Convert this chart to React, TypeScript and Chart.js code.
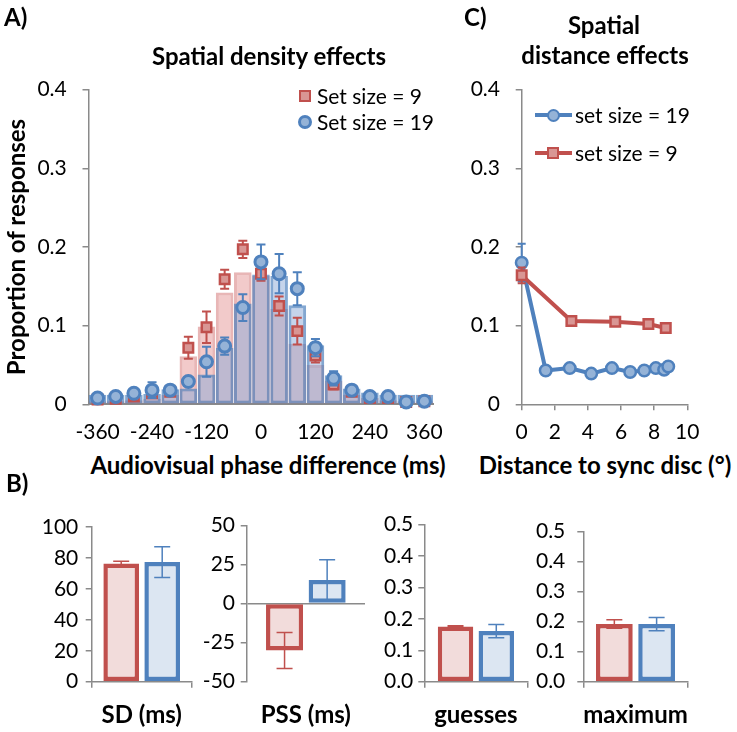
import React, { useEffect, useRef } from 'react';
import { Chart, registerables } from 'chart.js';

Chart.register(...registerables);

// ---------------- Panel A: spatial density effects ----------------
const phaseBins = [-360, -320, -280, -240, -200, -160, -120, -80, -40, 0, 40, 80, 120, 160, 200, 240, 280, 320, 360];
const phaseTickLabels = ['-360', '-240', '-120', '0', '120', '240', '360'];
const density9 = [0.006, 0.007, 0.010, 0.014, 0.016, 0.072, 0.098, 0.159, 0.197, 0.166, 0.125, 0.093, 0.062, 0.025, 0.016, 0.008, 0.008, 0.003, 0.004];
const density9Err = [0, 0, 0, 0, 0, 0.014, 0.020, 0.012, 0.011, 0.009, 0.012, 0.017, 0.009, 0.006, 0, 0, 0, 0, 0];
const density19 = [0.008, 0.010, 0.014, 0.018, 0.018, 0.029, 0.054, 0.074, 0.123, 0.181, 0.166, 0.147, 0.072, 0.033, 0.018, 0.010, 0.010, 0.003, 0.004];
const density19Err = [0.003, 0.003, 0.003, 0.010, 0.004, 0.004, 0.019, 0.011, 0.017, 0.022, 0.025, 0.021, 0.011, 0.009, 0.003, 0.003, 0.003, 0.002, 0.002];
const model9 = [0.004, 0.004, 0.005, 0.007, 0.012, 0.061, 0.099, 0.142, 0.168, 0.163, 0.121, 0.077, 0.050, 0.030, 0.012, 0.008, 0.005, 0.004, 0.004];
const model19 = [0.012, 0.012, 0.012, 0.013, 0.019, 0.020, 0.038, 0.072, 0.128, 0.165, 0.163, 0.126, 0.075, 0.037, 0.020, 0.015, 0.012, 0.012, 0.012];

// ---------------- Panel C: spatial distance effects ----------------
const distance19X = [0, 1.45, 2.9, 4.2, 5.45, 6.55, 7.4, 8.1, 8.6, 8.85];
const distance19 = [0.180, 0.043, 0.046, 0.039, 0.046, 0.041, 0.043, 0.046, 0.044, 0.048];
const distance19Err = [0.024, 0, 0, 0, 0, 0, 0, 0, 0, 0];
const distance9X = [0, 3.0, 5.65, 7.65, 8.7];
const distance9 = [0.164, 0.106, 0.105, 0.102, 0.097];
const distance9Err = [0.010, 0, 0, 0, 0];

// ---------------- Panel B: fitted parameters ----------------
const paramLabels = ['SD (ms)', 'PSS (ms)', 'guesses', 'maximum'];
const param9 = [76.4, -30, 0.176, 0.192];
const param9Err = [1.5, 11.5, 0.002, 0.014];
const param19 = [77.3, 15, 0.161, 0.192];
const param19Err = [10, 13, 0.021, 0.022];
const paramMin = [0, -50, 0, 0];
const paramMax = [100, 50, 0.5, 0.5];
const paramStep = [20, 25, 0.1, 0.1];
const paramDecimals = [0, 0, 1, 1];

// ---------------- styling ----------------
const FONT = "Lato, 'Open Sans', sans-serif";
const GREY = '#8a8a8a';
const RED = '#C0504D';
const BLUE = '#4F81BD';
const RED_MARK = '#D99694';
const BLUE_MARK = '#95B3D7';
const TICK_SIZE = 21;
const BOLD_SIZE = 24;
const LEGEND_SIZE = 21;

type Area = { l: number; t: number; r: number; b: number };
type Place = { left: number; top: number; width: number; height: number; yw: number; pt: number; pr: number; xh: number };

function place(a: Area, pad: Area): Place {
  const left = Math.floor(a.l - pad.l);
  const top = Math.floor(a.t - pad.t);
  const right = Math.ceil(a.r + pad.r);
  const bottom = Math.ceil(a.b + pad.b);
  return { left, top, width: right - left, height: bottom - top, yw: a.l - left, pt: a.t - top, pr: right - a.r, xh: bottom - a.b };
}

function drawErrors(chart: any, index: number, when: string) {
  const ds = chart.data.datasets[index];
  if (!ds.errors || (ds.errorWhen || 'before') !== when) return;
  const meta = chart.getDatasetMeta(index);
  const yScale = chart.scales[meta.yAxisID];
  const ctx = chart.ctx;
  ctx.save();
  ctx.strokeStyle = ds.errorColor;
  ctx.lineWidth = ds.errorWidth || 1.5;
  const cap = ds.errorCap || 4;
  meta.data.forEach((el: any, i: number) => {
    const err = ds.errors[i];
    if (!err) return;
    const raw = ds.data[i];
    const v = typeof raw === 'number' ? raw : raw.y;
    const x = el.x;
    const y1 = yScale.getPixelForValue(v + err);
    const y2 = yScale.getPixelForValue(v - err);
    ctx.beginPath();
    ctx.moveTo(x, y1);
    ctx.lineTo(x, y2);
    ctx.moveTo(x - cap, y1);
    ctx.lineTo(x + cap, y1);
    ctx.moveTo(x - cap, y2);
    ctx.lineTo(x + cap, y2);
    ctx.stroke();
  });
  ctx.restore();
}

const errorBarPlugin = {
  id: 'errorBars',
  beforeDatasetDraw(chart: any, args: any) {
    drawErrors(chart, args.index, 'before');
  },
  afterDatasetDraw(chart: any, args: any) {
    drawErrors(chart, args.index, 'after');
  },
};

const tickFont = { family: FONT, size: TICK_SIZE };

function yAxis(p: Place, min: number, max: number, step: number, padding: number, fmt: (v: number) => string, extra: any = {}) {
  return {
    min,
    max,
    ticks: { stepSize: step, padding, font: tickFont, color: '#000', callback: (v: any) => fmt(Number(v)) },
    grid: { display: true, drawOnChartArea: false, drawTicks: true, tickLength: 6, color: GREY, lineWidth: 1.5, ...(extra.grid || {}) },
    border: { display: true, color: GREY, width: 1.5 },
    afterFit: (s: any) => {
      s.width = p.yw;
    },
  };
}

const A_AREA: Area = { l: 88.5, t: 89.6, r: 448, b: 404.3 };
const A_PLACE = place(A_AREA, { l: 88.5, t: 89.6, r: 10, b: 44 });
const C_AREA: Area = { l: 521.7, t: 89.6, r: 687.3, b: 404.3 };
const C_PLACE = place(C_AREA, { l: 62, t: 89.6, r: 25, b: 44 });

const B_AREAS: Area[] = [
  { l: 91.7, t: 523.3, r: 191.7, b: 681.7 },
  { l: 246.7, t: 523.3, r: 365, b: 681.7 },
  { l: 424.3, t: 523.3, r: 527.5, b: 681.7 },
  { l: 583.3, t: 523.3, r: 697.4, b: 681.7 },
];
const B_CATPCT = [0.82, 0.72, 0.79, 0.81];
const B_YPAD = [7.4, 5.7, 5, 12];
const B_PLACES = B_AREAS.map((a) => place(a, { l: 62, t: 16, r: 6, b: 50 }));

function fmtProp(v: number) {
  return Math.abs(v) < 1e-9 ? '0' : v.toFixed(1);
}

function makeA(p: Place): any {
  return {
    type: 'bar',
    data: {
      labels: phaseBins.map(String),
      datasets: [
        {
          type: 'line', label: 'Set size = 19', data: density19, errors: density19Err, errorColor: BLUE, errorWidth: 2, errorCap: 4.5,
          showLine: false, pointStyle: 'circle', pointRadius: 6, pointBorderWidth: 3, pointBackgroundColor: BLUE_MARK, pointBorderColor: BLUE,
          order: 0, clip: false,
        },
        {
          type: 'line', label: 'Set size = 9', data: density9, errors: density9Err, errorColor: RED, errorWidth: 2, errorCap: 4.5,
          showLine: false, pointStyle: 'rect', pointRadius: 6.7, pointBorderWidth: 2.5, pointBackgroundColor: RED_MARK, pointBorderColor: RED,
          order: 1, clip: false,
        },
        {
          type: 'bar', label: 'Model set size = 19', data: model19, backgroundColor: 'rgba(140,170,215,0.5)', borderColor: 'rgba(79,129,189,0.7)',
          borderWidth: 3, borderSkipped: false, grouped: false, barPercentage: 1, categoryPercentage: 0.97, order: 2,
        },
        {
          type: 'bar', label: 'Model set size = 9', data: model9, backgroundColor: 'rgba(230,150,150,0.5)', borderColor: 'rgba(210,110,110,0.5)',
          borderWidth: 3, borderSkipped: false, grouped: false, barPercentage: 1, categoryPercentage: 0.97, order: 3,
        },
      ],
    },
    options: {
      animation: false, responsive: false, events: [],
      layout: { padding: { left: 0, top: p.pt, right: p.pr, bottom: 0 } },
      plugins: { legend: { display: false }, tooltip: { enabled: false }, title: { display: false } },
      scales: {
        x: {
          type: 'category', offset: true,
          grid: { display: false, drawTicks: false },
          border: { display: true, color: GREY, width: 2 },
          ticks: {
            autoSkip: false, maxRotation: 0, minRotation: 0, padding: 15.1, font: tickFont, color: '#000',
            callback: (_v: any, i: number) => (phaseTickLabels.includes(String(phaseBins[i])) ? String(phaseBins[i]) : ''),
          },
          afterFit: (s: any) => { s.height = p.xh; },
        },
        y: yAxis(p, 0, 0.4, 0.1, 15.8, fmtProp),
      },
    },
    plugins: [errorBarPlugin],
  };
}

function makeC(p: Place): any {
  return {
    type: 'scatter',
    data: {
      datasets: [
        {
          label: 'set size = 19', data: distance19X.map((x, i) => ({ x, y: distance19[i] })), showLine: true,
          borderColor: BLUE, borderWidth: 4, pointStyle: 'circle', pointRadius: 5.75, pointBorderWidth: 2.5,
          pointBackgroundColor: BLUE_MARK, pointBorderColor: BLUE, errors: distance19Err, errorColor: BLUE, errorWidth: 2, errorCap: 4,
          order: 1, clip: false,
        },
        {
          label: 'set size = 9', data: distance9X.map((x, i) => ({ x, y: distance9[i] })), showLine: true,
          borderColor: RED, borderWidth: 4, pointStyle: 'rect', pointRadius: 6.7, pointBorderWidth: 2.5,
          pointBackgroundColor: RED_MARK, pointBorderColor: RED, errors: distance9Err, errorColor: RED, errorWidth: 2, errorCap: 4,
          order: 0, clip: false,
        },
      ],
    },
    options: {
      animation: false, responsive: false, events: [],
      layout: { padding: { left: 0, top: p.pt, right: p.pr, bottom: 0 } },
      plugins: { legend: { display: false }, tooltip: { enabled: false }, title: { display: false } },
      scales: {
        x: {
          type: 'linear', min: 0, max: 10,
          ticks: { stepSize: 2, padding: 9.1, font: tickFont, color: '#000', maxRotation: 0 },
          grid: { display: true, drawOnChartArea: false, drawTicks: true, tickLength: 6, color: GREY, lineWidth: 1.5 },
          border: { display: true, color: GREY, width: 1.5 },
          afterFit: (s: any) => { s.height = p.xh; },
        },
        y: yAxis(p, 0, 0.4, 0.1, 15.7, fmtProp),
      },
    },
    plugins: [errorBarPlugin],
  };
}

function makeB(k: number) {
  return (p: Place): any => {
    const isPSS = paramMin[k] < 0;
    const dec = paramDecimals[k];
    const grid: any = isPSS
      ? {
          display: true, drawOnChartArea: true, drawTicks: true, tickLength: 6, lineWidth: 1.5, tickColor: GREY,
          color: (c: any) => (c.tick && Math.abs(c.tick.value) < 1e-9 ? GREY : 'rgba(0,0,0,0)'),
        }
      : {};
    return {
      type: 'bar',
      data: {
        labels: [paramLabels[k]],
        datasets: [
          {
            label: 'Set size = 9', data: [param9[k]], backgroundColor: '#F2DCDB', borderColor: RED, borderWidth: 4.5, borderSkipped: false,
            errors: [param9Err[k]], errorColor: RED, errorWhen: 'after', errorWidth: 1.5, errorCap: 8,
          },
          {
            label: 'Set size = 19', data: [param19[k]], backgroundColor: '#DCE6F2', borderColor: BLUE, borderWidth: 4.5, borderSkipped: false,
            errors: [param19Err[k]], errorColor: BLUE, errorWhen: 'after', errorWidth: 1.5, errorCap: 8,
          },
        ],
      },
      options: {
        animation: false, responsive: false, events: [],
        layout: { padding: { left: 0, top: p.pt, right: p.pr, bottom: 0 } },
        plugins: { legend: { display: false }, tooltip: { enabled: false }, title: { display: false } },
        datasets: { bar: { categoryPercentage: B_CATPCT[k], barPercentage: 0.87 } },
        scales: {
          x: {
            type: 'category', offset: true,
            grid: {
              display: true, offset: true, drawOnChartArea: false, drawTicks: true, tickLength: 6, lineWidth: 1.5,
              color: isPSS ? 'rgba(0,0,0,0)' : GREY,
            },
            border: { display: !isPSS, color: GREY, width: 1.5 },
            ticks: { padding: 12.9, font: { family: FONT, size: BOLD_SIZE, weight: 'bold' }, color: '#000', maxRotation: 0 },
            afterFit: (s: any) => { s.height = p.xh; },
          },
          y: yAxis(p, paramMin[k], paramMax[k], paramStep[k], B_YPAD[k], (v) => (dec ? v.toFixed(dec) : String(Math.round(v))), { grid }),
        },
      },
      plugins: [errorBarPlugin],
    };
  };
}

function ChartBox({ p, make }: { p: Place; make: (p: Place) => any }) {
  const ref = useRef<HTMLCanvasElement>(null);
  useEffect(() => {
    const chart = new Chart(ref.current as HTMLCanvasElement, make(p));
    return () => chart.destroy();
  }, []);
  return (
    <canvas
      ref={ref}
      width={p.width}
      height={p.height}
      style={{ position: 'absolute', left: p.left, top: p.top, width: p.width, height: p.height }}
    />
  );
}

function Txt({ x, y, children, bold, size, align = 'center', rotate }: any) {
  const tx = align === 'center' ? '-50%' : '0';
  return (
    <div
      style={{
        position: 'absolute', left: x, top: y, whiteSpace: 'nowrap', fontFamily: FONT,
        fontWeight: bold ? 700 : 400, fontSize: size || 18, lineHeight: 1.2, color: '#000',
        transform: `translate(${tx}, -50%)${rotate ? ` rotate(${rotate}deg)` : ''}`,
        transformOrigin: align === 'center' ? 'center' : 'left center',
      }}
    >
      {children}
    </div>
  );
}

function Box(style: any) {
  return <div style={{ position: 'absolute', boxSizing: 'border-box', ...style }} />;
}

export default function App() {
  return (
    <div style={{ position: 'absolute', left: 0, top: 0, width: 737, height: 732, background: '#fff', overflow: 'hidden', fontFamily: FONT }}>
      <ChartBox p={A_PLACE} make={makeA} />
      <ChartBox p={C_PLACE} make={makeC} />
      {B_PLACES.map((p, k) => (
        <ChartBox key={k} p={p} make={makeB(k)} />
      ))}

      <Txt x={4} y={17} bold size={BOLD_SIZE} align="left">A)</Txt>
      <Txt x={269} y={56} bold size={BOLD_SIZE}>Spatial density effects</Txt>
      <Txt x={16} y={247} bold size={BOLD_SIZE} rotate={-90}>Proportion of responses</Txt>
      <Txt x={268} y={465} bold size={BOLD_SIZE}>Audiovisual phase difference (ms)</Txt>

      {Box({ left: 299, top: 90, width: 12, height: 12, border: `2.5px solid ${RED}`, background: RED_MARK })}
      <Txt x={317} y={96} size={LEGEND_SIZE} align="left">Set size = 9</Txt>
      {Box({ left: 298, top: 114.7, width: 14, height: 14, borderRadius: '50%', border: `3px solid ${BLUE}`, background: BLUE_MARK })}
      <Txt x={317} y={121.7} size={LEGEND_SIZE} align="left">Set size = 19</Txt>

      <Txt x={464} y={17} bold size={BOLD_SIZE} align="left">C)</Txt>
      <Txt x={604} y={25} bold size={BOLD_SIZE}>Spatial</Txt>
      <Txt x={605} y={55} bold size={BOLD_SIZE}>distance effects</Txt>
      <Txt x={605} y={465} bold size={BOLD_SIZE}>Distance to sync disc (°)</Txt>

      {Box({ left: 535, top: 113, width: 37, height: 4, background: BLUE })}
      {Box({ left: 546.5, top: 108.5, width: 13, height: 13, borderRadius: '50%', border: `2.5px solid ${BLUE}`, background: BLUE_MARK })}
      <Txt x={575} y={115} size={LEGEND_SIZE} align="left">set size = 19</Txt>
      {Box({ left: 535, top: 150.7, width: 37, height: 4, background: RED })}
      {Box({ left: 547, top: 146.7, width: 12, height: 12, border: `2.5px solid ${RED}`, background: RED_MARK })}
      <Txt x={575} y={152.7} size={LEGEND_SIZE} align="left">set size = 9</Txt>

      <Txt x={6} y={483} bold size={BOLD_SIZE} align="left">B)</Txt>
    </div>
  );
}
